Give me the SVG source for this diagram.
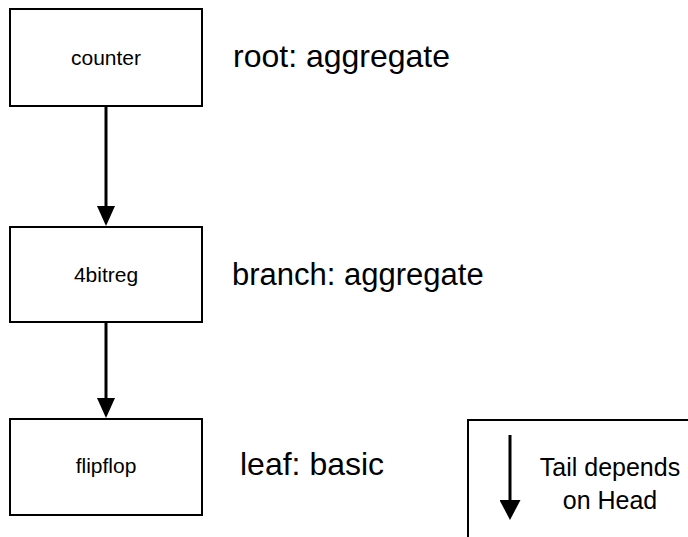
<svg xmlns="http://www.w3.org/2000/svg" width="688" height="537" viewBox="0 0 688 537">
  <style>
    .box { fill: #ffffff; stroke: #000000; stroke-width: 2; }
    .nlabel { font-family: "Liberation Sans", Arial, sans-serif; font-size: 21px; fill: #000000; text-anchor: middle; }
    .side { font-family: "Liberation Sans", Arial, sans-serif; font-size: 32px; fill: #000000; }
    .legend { font-family: "Liberation Sans", Arial, sans-serif; font-size: 25px; fill: #000000; text-anchor: middle; }
    .edge { stroke: #000000; stroke-width: 3; fill: none; }
  </style>
  <defs>
    <marker id="head" markerUnits="userSpaceOnUse" markerWidth="20" markerHeight="18" viewBox="0 0 20 18" refX="0" refY="9" orient="auto">
      <path d="M0,0 L20,9 L0,18 Z" fill="#000000"/>
    </marker>
    <marker id="headL" markerUnits="userSpaceOnUse" markerWidth="20" markerHeight="21" viewBox="0 0 20 21" refX="0" refY="10.5" orient="auto">
      <path d="M0,0 L20,10.5 L0,21 Z" fill="#000000"/>
    </marker>
  </defs>
  <rect width="688" height="537" fill="#ffffff"/>

  <g id="counter">
    <rect class="box" x="10" y="9" width="192" height="97"/>
    <text class="nlabel" x="106" y="65">counter</text>
  </g>
  <g id="4bitreg">
    <rect class="box" x="10" y="227" width="192" height="95"/>
    <text class="nlabel" x="106" y="282">4bitreg</text>
  </g>
  <g id="flipflop">
    <rect class="box" x="10" y="419" width="192" height="96"/>
    <text class="nlabel" x="106" y="473">flipflop</text>
  </g>

  <g id="labels">
    <text class="side" x="233" y="67">root: aggregate</text>
    <text class="side" x="232" y="285" style="font-size:31px">branch: aggregate</text>
    <text class="side" x="240" y="475">leaf: basic</text>
  </g>

  <g id="connectors">
    <line class="edge" x1="106" y1="107" x2="106" y2="206" marker-end="url(#head)"/>
    <line class="edge" x1="106" y1="323" x2="106" y2="398" marker-end="url(#head)"/>
  </g>

  <g id="legend">
    <rect class="box" x="468" y="420" width="240" height="140"/>
    <line class="edge" x1="510" y1="435" x2="510" y2="500" marker-end="url(#headL)"/>
    <text class="legend" x="610" y="476">Tail depends</text>
    <text class="legend" x="610" y="509">on Head</text>
  </g>
</svg>
